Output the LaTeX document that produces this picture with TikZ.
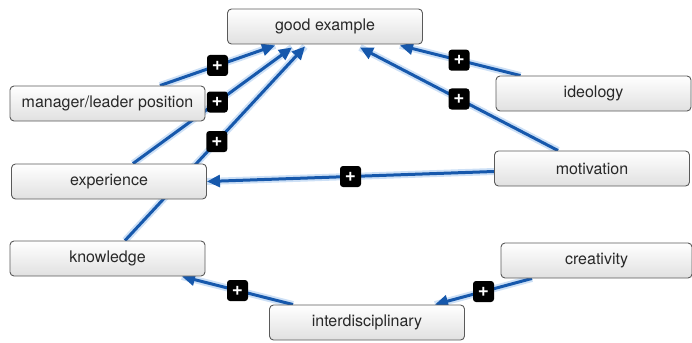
\documentclass[tikz,border=0pt]{standalone}
\usepackage{fontspec}
\setmainfont{TeX Gyre Heros}
\usetikzlibrary{arrows.meta,shadings}
\definecolor{arrowblue}{RGB}{22,88,172}
\definecolor{glowblue}{RGB}{205,224,246}
\definecolor{boxedge}{RGB}{90,90,90}
\definecolor{txt}{RGB}{40,40,40}
\pgfdeclarelayer{background}
\pgfsetlayers{background,main}
\tikzset{
  box/.style={draw=boxedge, line width=0.9pt, rounded corners=4pt,
    top color=white, bottom color=black!12, minimum width=195pt,
    minimum height=35pt, inner sep=0pt, text=txt,
    font=\fontsize{16}{18}\selectfont},
  link/.style={line width=3pt, draw=arrowblue,
    -{Triangle[length=13pt,width=12pt]},
    preaction={draw=glowblue, line width=7pt, -{}}},
  badge/.style={fill=black, rounded corners=3pt, minimum size=21pt,
    inner sep=0pt, text=white, font=\fontsize{19}{19}\selectfont\bfseries}
}
\begin{document}
\begin{tikzpicture}[x=1pt,y=-1pt]
\useasboundingbox (0,0) rectangle (692,342);
\node[box] (good) at (325,26.5) {good example};
\node[box] (mgr) at (107.5,103.5) {manager/leader position};
\node[box] (ideo) at (593.5,93.5) {ideology};
\node[box] (exp) at (109,181.5) {experience};
\node[box] (mot) at (592,168.5) {motivation};
\node[box] (know) at (107.5,258.5) {knowledge};
\node[box, minimum width=191pt] (crea) at (596.5,260.5) {creativity};
\node[box] (inter) at (367,322.5) {interdisciplinary};
\begin{pgfonlayer}{background}
\draw[link] ([xshift=52.5pt]mgr.north) -- ([xshift=-50pt,yshift=-1pt]good.south)
  node[badge,pos=0.5] (b1) {+};
\draw[link] ([xshift=24pt]exp.north) -- ([xshift=-33pt,yshift=-3pt]good.south)
  node[badge,pos=0.53] (b2) {+};
\draw[link] ([xshift=17.5pt]know.north) -- ([xshift=-20pt,yshift=-2pt]good.south)
  node[badge,pos=0.51] (b3) {+};
\draw[link] ([xshift=-73pt]ideo.north) -- ([xshift=75pt,yshift=-1pt]good.south)
  node[badge,pos=0.51] (b4) {+};
\draw[link] ([xshift=-34pt]mot.north) -- ([xshift=35pt,yshift=-3pt]good.south)
  node[badge,pos=0.5] (b5) {+};
\draw[link] ([yshift=-3pt]mot.west) -- (exp.east)
  node[badge,pos=0.5] (b6) {+};
\draw[link] ([xshift=-74pt]inter.north) -- ([xshift=74.5pt]know.south)
  node[badge,pos=0.5] (b7) {+};
\draw[link] ([xshift=-64.5pt]crea.south) -- ([xshift=68pt]inter.north)
  node[badge,pos=0.5] (b8) {+};
\end{pgfonlayer}
\end{tikzpicture}
\end{document}
